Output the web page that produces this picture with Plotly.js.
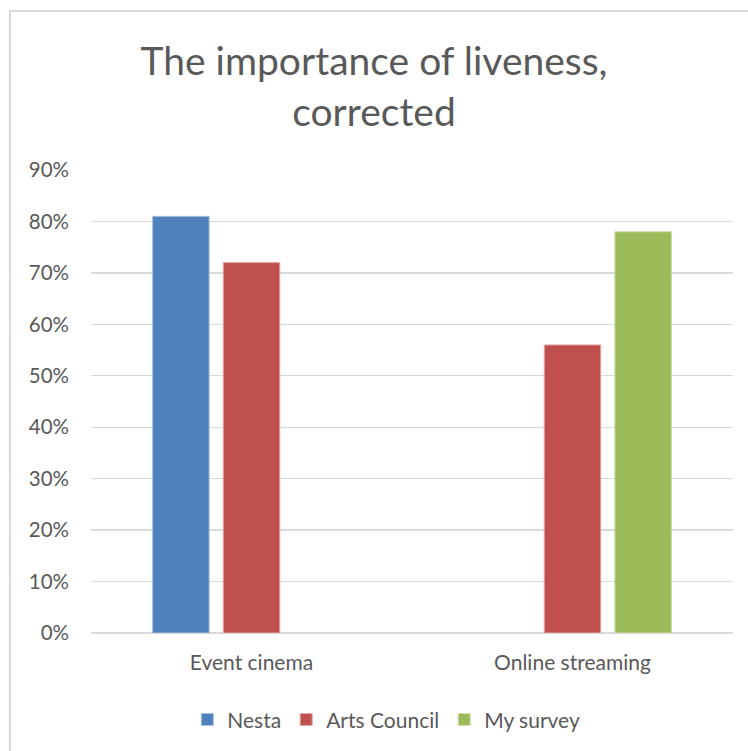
<!DOCTYPE html>
<html>
<head>
<meta charset="utf-8">
<script src="https://cdn.plot.ly/plotly-3.0.1.min.js"></script>
<style>
  html, body { margin: 0; padding: 0; background: #fff; }
  #chart { width: 748px; height: 751px; }
  #frame { position: absolute; left: 9px; top: 10px; width: 760px; height: 760px;
           border-left: 2px solid #d9d9d9; border-top: 2px solid #d9d9d9; pointer-events: none; }
</style>
</head>
<body>
<div id="chart"></div>
<div id="frame"></div>
<script>
const categories = ["Event cinema", "Online streaming"];
const seriesNames = ["Nesta", "Arts Council", "My survey"];
const nesta = [0.81, null];
const artsCouncil = [0.72, 0.56];
const mySurvey = [null, 0.78];
const colors = ["#4F81BD", "#C0504D", "#9BBB59"];
const edgeColors = ["#a7c0de", "#e0a8a6", "#cddeac"];
const tickVals = [0, 0.1, 0.2, 0.3, 0.4, 0.5, 0.6, 0.7, 0.8, 0.9];
const tickText = ["0%", "10%", "20%", "30%", "40%", "50%", "60%", "70%", "80%", "90%"];

const values = [nesta, artsCouncil, mySurvey];
const font = "Lato, 'Open Sans', sans-serif";
const data = values.map((v, i) => ({
  type: "bar",
  name: seriesNames[i],
  x: categories,
  y: v,
  marker: { color: colors[i], line: { color: edgeColors[i], width: 1 } },
  hoverinfo: "none"
}));

const layout = {
  width: 748,
  height: 751,
  paper_bgcolor: "#ffffff",
  plot_bgcolor: "#ffffff",
  font: { family: font, color: "#595959", size: 21 },
  title: {
    text: "The importance of liveness,<br>corrected",
    font: { family: font, size: 39, color: "#595959" },
    x: 0.5, xanchor: "center",
    y: 0.9, yanchor: "middle", yref: "container"
  },
  margin: { l: 91, r: 15, t: 170, b: 117, pad: 0 },
  barmode: "group",
  bargap: 0.34,
  bargroupgap: 0.2,
  xaxis: {
    type: "category",
    showgrid: false,
    showline: false,
    ticks: "",
    ticklabelstandoff: 15,
    tickfont: { family: font, size: 21, color: "#595959" }
  },
  yaxis: {
    range: [0, 0.9],
    tickvals: tickVals,
    ticktext: tickText,
    showgrid: true,
    gridcolor: "#d9d9d9",
    gridwidth: 1.3,
    zeroline: true,
    zerolinecolor: "#d9d9d9",
    zerolinewidth: 1.5,
    showline: false,
    ticks: "",
    ticklabelstandoff: 21,
    tickfont: { family: font, size: 20.5, color: "#595959" }
  },
  showlegend: true,
  legend: {
    orientation: "h",
    x: 0.46, xanchor: "center",
    y: -0.185, yanchor: "middle",
    font: { family: font, size: 21, color: "#595959" },
    itemwidth: 30,
    traceorder: "normal"
  }
};

Plotly.newPlot("chart", data, layout, { displayModeBar: false, staticPlot: true });
</script>
</body>
</html>
